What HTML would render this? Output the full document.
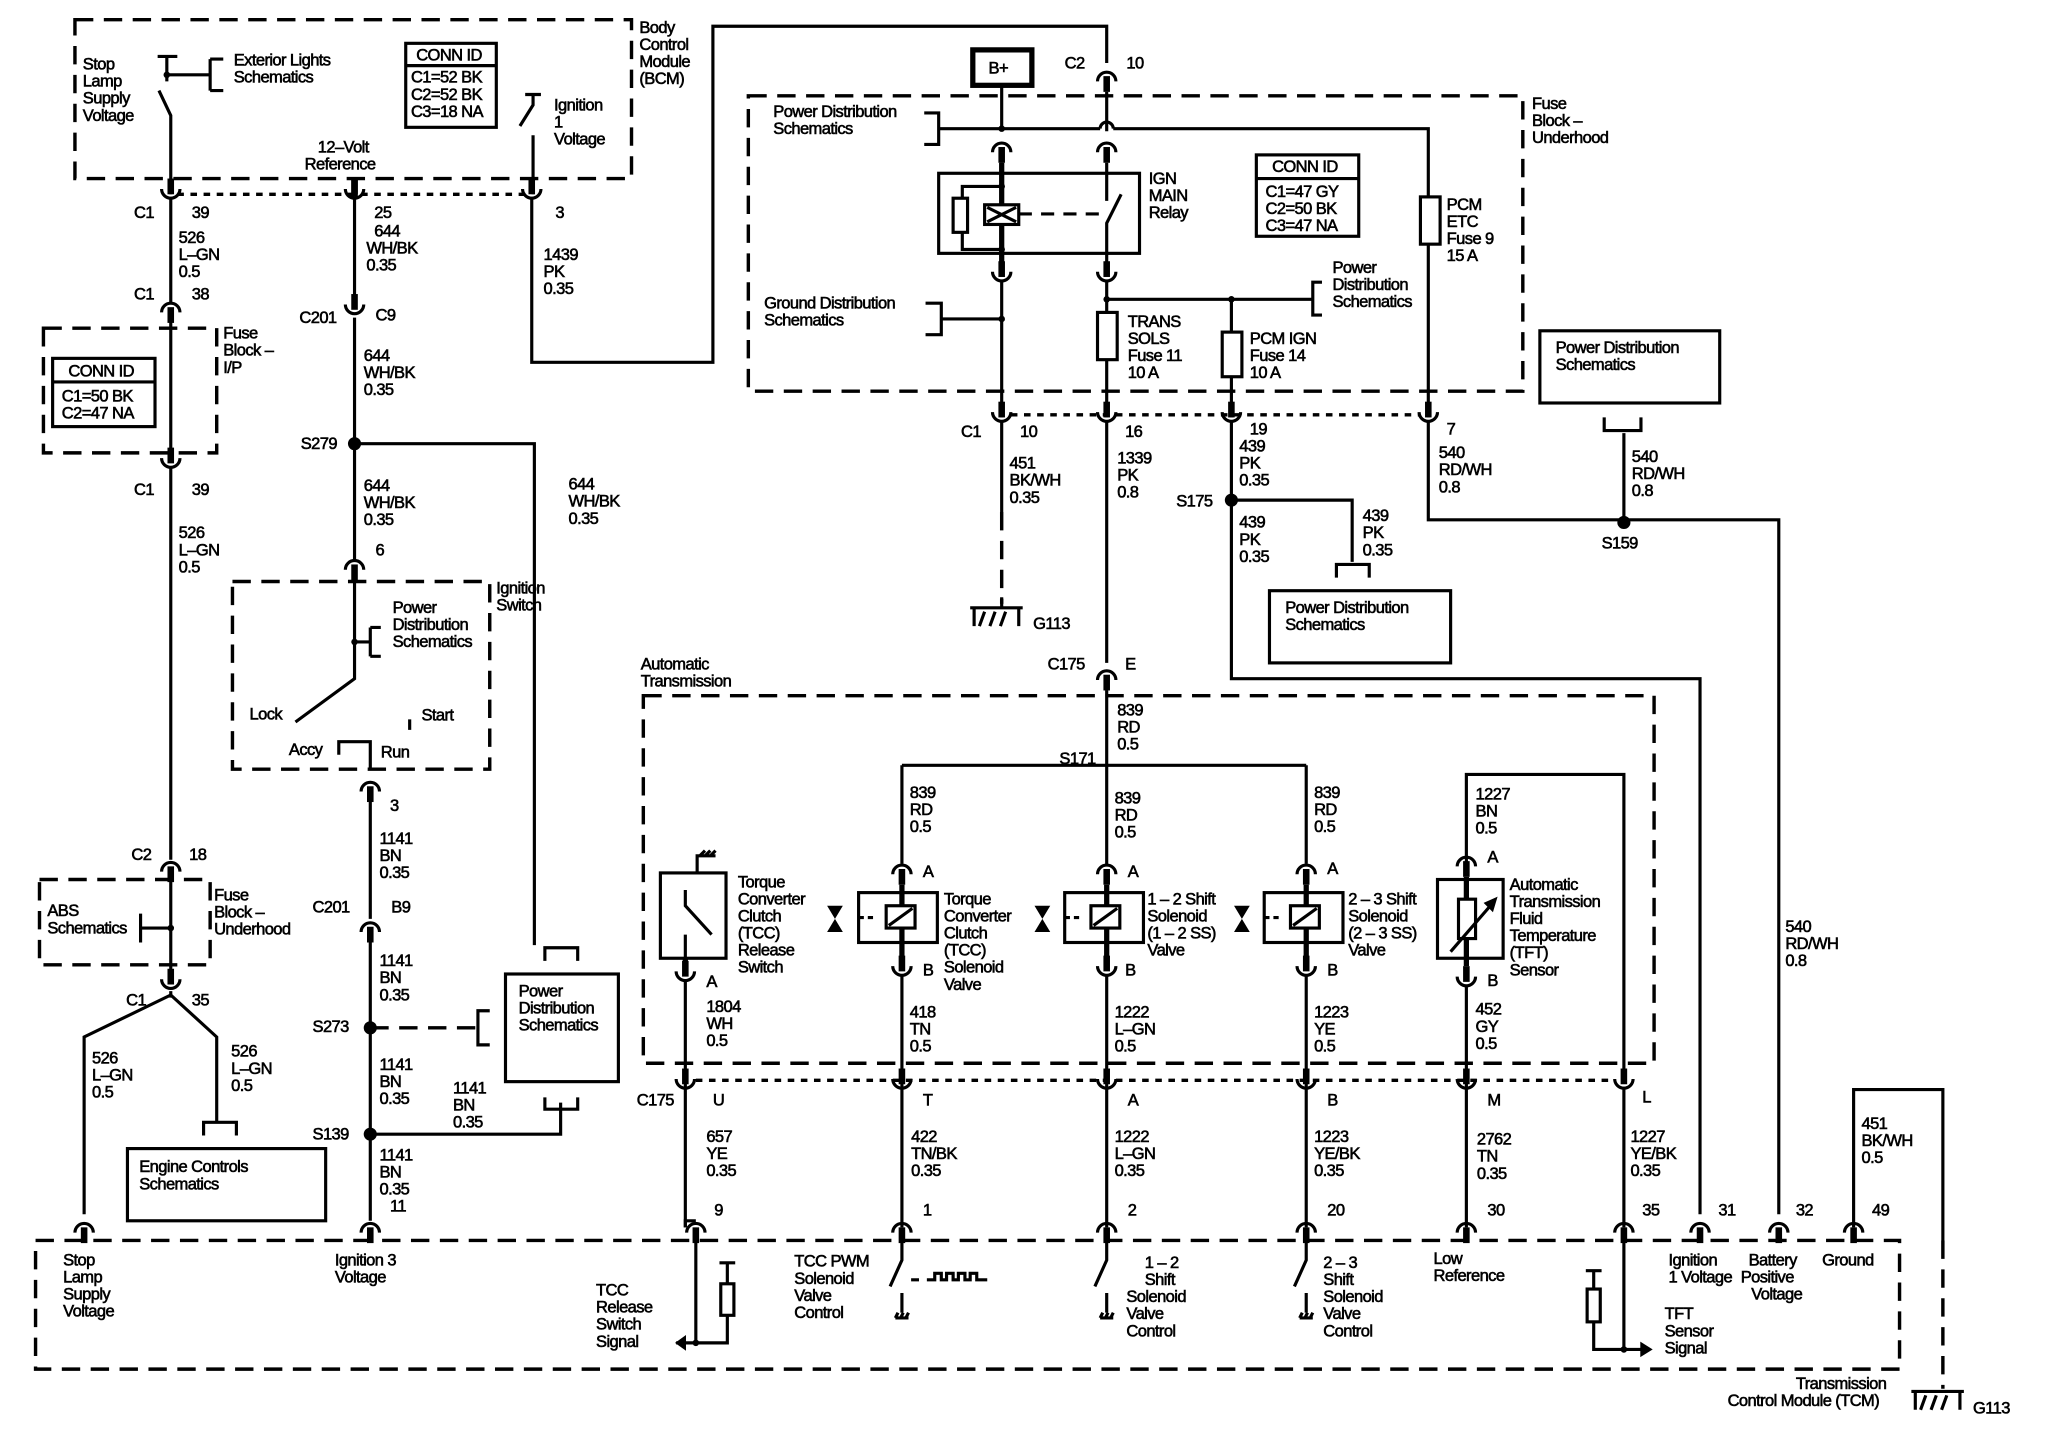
<!DOCTYPE html>
<html><head><meta charset="utf-8"><style>
html,body{margin:0;padding:0;background:#fff;}
svg{display:block}
text{font-family:"Liberation Sans Narrow","Liberation Sans",sans-serif;font-size:12.6px;letter-spacing:-0.45px;fill:#000;stroke:#000;stroke-width:0.45}
.w{stroke:#000;stroke-width:2.4;fill:none}
.d{stroke:#000;stroke-width:2.6;fill:none;stroke-dasharray:14 8}
.s{stroke:#000;stroke-width:2.6;fill:none;stroke-dasharray:5 5}
.b{stroke:#000;stroke-width:2.4;fill:#fff}
</style></head><body>
<svg width="2048" height="1440" viewBox="0 0 1560 1097" xmlns="http://www.w3.org/2000/svg">
<defs>
<g id="cu"><path d="M0,-14V-2" stroke="#000" stroke-width="5"/><path d="M-7,-6A7,7 0 0 0 7,-6" class="w"/></g>
<g id="cn"><path d="M0,14V2" stroke="#000" stroke-width="5"/><path d="M-7,6A7,7 0 0 1 7,6" class="w"/></g>
<g id="gnd"><path d="M-20,0H20M-17,0V14M17,0V14M-9,3L-13,14M-1,3L-5,14M7,3L3,14" class="w"/></g>
<g id="sg"><path d="M-5,4H5M-3,0L-5,4M1,0L-1,4M5,0L3,4" class="w" stroke-width="1.6"/></g>
</defs>
<rect width="1560" height="1097" fill="#fff"/>

<path d="M57,15H481V136H57Z" class="d"/>
<text x="487" y="25"><tspan x="487">Body</tspan><tspan x="487" dy="13">Control</tspan><tspan x="487" dy="13">Module</tspan><tspan x="487" dy="13">(BCM)</tspan></text>
<text x="63" y="53"><tspan x="63">Stop</tspan><tspan x="63" dy="13">Lamp</tspan><tspan x="63" dy="13">Supply</tspan><tspan x="63" dy="13">Voltage</tspan></text>
<path d="M120,43H135M127,43V62M127,57H160M160,45V69M160,45H170M160,69H170" class="w"/>
<circle cx="127" cy="57" r="2.5"/>
<path d="M121,69L130,88V148" class="w"/>
<text x="178" y="50"><tspan x="178">Exterior Lights</tspan><tspan x="178" dy="13">Schematics</tspan></text>
<rect x="309" y="33" width="69" height="64" class="w"/><path d="M309,50H378" class="w"/>
<text x="317" y="46">CONN ID</text>
<text x="313" y="63"><tspan x="313">C1=52 BK</tspan><tspan x="313" dy="13">C2=52 BK</tspan><tspan x="313" dy="13">C3=18 NA</tspan></text>
<path d="M400,72H412M406,72V80L396,96M406,103V148" class="w"/>
<text x="422" y="84"><tspan x="422">Ignition</tspan><tspan x="422" dy="13">1</tspan><tspan x="422" dy="13">Voltage</tspan></text>
<text x="242" y="116"><tspan x="242">12–Volt</tspan><tspan x="232" dy="13">Reference</tspan></text>
<path d="M135,148H400" class="s"/>
<use href="#cu" x="130" y="150"/><use href="#cu" x="270" y="150"/><use href="#cu" x="405" y="150"/>
<path d="M270,136V150" stroke="#000" stroke-width="5"/>
<text x="102" y="166">C1</text><text x="146" y="166">39</text>
<text x="285" y="166">25</text><text x="423" y="166">3</text>

<path d="M130,150V232M130,242V342M130,356V655M130,668V745M130,755V760" class="w"/>
<text x="136" y="185"><tspan x="136">526</tspan><tspan x="136" dy="13">L–GN</tspan><tspan x="136" dy="13">0.5</tspan></text>
<use href="#cn" x="130" y="232"/>
<text x="102" y="228">C1</text><text x="146" y="228">38</text>
<path d="M33,250H165V345H33Z" class="d"/>
<text x="170" y="258"><tspan x="170">Fuse</tspan><tspan x="170" dy="13">Block –</tspan><tspan x="170" dy="13">I/P</tspan></text>
<rect x="40" y="273" width="78" height="52" class="w"/><path d="M40,291H118" class="w"/>
<text x="52" y="287">CONN ID</text>
<text x="47" y="306"><tspan x="47">C1=50 BK</tspan><tspan x="47" dy="13">C2=47 NA</tspan></text>
<use href="#cu" x="130" y="355"/>
<text x="102" y="377">C1</text><text x="146" y="377">39</text>
<text x="136" y="410"><tspan x="136">526</tspan><tspan x="136" dy="13">L–GN</tspan><tspan x="136" dy="13">0.5</tspan></text>
<use href="#cn" x="130" y="658"/>
<text x="100" y="655">C2</text><text x="144" y="655">18</text>
<path d="M30,670H160V735H30Z" class="d"/>
<text x="163" y="686"><tspan x="163">Fuse</tspan><tspan x="163" dy="13">Block –</tspan><tspan x="163" dy="13">Underhood</tspan></text>
<text x="36" y="698"><tspan x="36">ABS</tspan><tspan x="36" dy="13">Schematics</tspan></text>
<path d="M107,696V718M107,707H130" class="w"/><circle cx="130" cy="707" r="2.5"/>
<use href="#cu" x="130" y="752"/>
<text x="96" y="766">C1</text><text x="146" y="766">35</text>
<path d="M130,758L64,790V925M130,758L165,790V855" class="w"/>
<text x="70" y="810"><tspan x="70">526</tspan><tspan x="70" dy="13">L–GN</tspan><tspan x="70" dy="13">0.5</tspan></text>
<text x="176" y="805"><tspan x="176">526</tspan><tspan x="176" dy="13">L–GN</tspan><tspan x="176" dy="13">0.5</tspan></text>
<path d="M155,865V855H180V865" class="w"/>
<rect x="97" y="875" width="151" height="55" class="w"/>
<text x="106" y="893"><tspan x="106">Engine Controls</tspan><tspan x="106" dy="13">Schematics</tspan></text>

<path d="M270,150V226M270,242V428M270,443V517L225,550" class="w"/>
<text x="285" y="180"><tspan x="285">644</tspan><tspan x="279" dy="13">WH/BK</tspan><tspan x="279" dy="13">0.35</tspan></text>
<use href="#cu" x="270" y="238"/>
<text x="228" y="246">C201</text><text x="286" y="244">C9</text>
<text x="277" y="275"><tspan x="277">644</tspan><tspan x="277" dy="13">WH/BK</tspan><tspan x="277" dy="13">0.35</tspan></text>
<circle cx="270" cy="338" r="5"/>
<text x="229" y="342">S279</text>
<path d="M270,338H407V720" class="w"/>
<text x="433" y="373"><tspan x="433">644</tspan><tspan x="433" dy="13">WH/BK</tspan><tspan x="433" dy="13">0.35</tspan></text>
<text x="277" y="374"><tspan x="277">644</tspan><tspan x="277" dy="13">WH/BK</tspan><tspan x="277" dy="13">0.35</tspan></text>
<use href="#cn" x="270" y="428"/><text x="286" y="423">6</text>
<path d="M177,443H373V586H177Z" class="d"/>
<text x="378" y="452"><tspan x="378">Ignition</tspan><tspan x="378" dy="13">Switch</tspan></text>
<path d="M270,489H282M282,478V500M282,478H290M282,500H290" class="w"/><circle cx="270" cy="489" r="2.5"/>
<text x="299" y="467"><tspan x="299">Power</tspan><tspan x="299" dy="13">Distribution</tspan><tspan x="299" dy="13">Schematics</tspan></text>
<text x="190" y="548">Lock</text><text x="321" y="549">Start</text>
<text x="220" y="575">Accy</text><text x="290" y="577">Run</text>
<path d="M312,548V556M258,575V565H282V585" class="w"/>
<use href="#cn" x="282" y="597"/><text x="297" y="618">3</text>
<path d="M282,611V700M282,716V930" class="w"/>
<text x="289" y="643"><tspan x="289">1141</tspan><tspan x="289" dy="13">BN</tspan><tspan x="289" dy="13">0.35</tspan></text>
<use href="#cn" x="282" y="704"/>
<text x="238" y="695">C201</text><text x="298" y="695">B9</text>
<text x="289" y="736"><tspan x="289">1141</tspan><tspan x="289" dy="13">BN</tspan><tspan x="289" dy="13">0.35</tspan></text>
<circle cx="282" cy="783" r="5"/><text x="238" y="786">S273</text>
<path d="M282,783H364" class="d"/>
<path d="M373,770H364V796H373" class="w"/>
<text x="289" y="815"><tspan x="289">1141</tspan><tspan x="289" dy="13">BN</tspan><tspan x="289" dy="13">0.35</tspan></text>
<text x="345" y="833"><tspan x="345">1141</tspan><tspan x="345" dy="13">BN</tspan><tspan x="345" dy="13">0.35</tspan></text>
<circle cx="282" cy="864" r="5"/><text x="238" y="868">S139</text>
<path d="M282,864H427V840" class="w"/>
<path d="M415,732V722H440V732M415,836V845H440V836" class="w"/>
<rect x="385" y="742" width="86" height="82" class="w"/>
<text x="395" y="759"><tspan x="395">Power</tspan><tspan x="395" dy="13">Distribution</tspan><tspan x="395" dy="13">Schematics</tspan></text>
<text x="289" y="884"><tspan x="289">1141</tspan><tspan x="289" dy="13">BN</tspan><tspan x="289" dy="13">0.35</tspan><tspan x="297" dy="13">11</tspan></text>

<path d="M405,150V276H543V20H843V48" class="w"/>
<text x="414" y="198"><tspan x="414">1439</tspan><tspan x="414" dy="13">PK</tspan><tspan x="414" dy="13">0.35</tspan></text>

<rect x="741" y="38" width="45" height="27" fill="none" stroke="#000" stroke-width="4"/>
<text x="753" y="56">B+</text>
<use href="#cn" x="843" y="56"/>
<text x="811" y="52">C2</text><text x="858" y="52">10</text>
<path d="M570,73H1160V298H570Z" class="d"/>
<text x="1167" y="83"><tspan x="1167">Fuse</tspan><tspan x="1167" dy="13">Block –</tspan><tspan x="1167" dy="13">Underhood</tspan></text>
<text x="589" y="89"><tspan x="589">Power Distribution</tspan><tspan x="589" dy="13">Schematics</tspan></text>
<path d="M704,86H715V110H704M715,98H838M848,98H1088V318" class="w"/>
<path d="M838,98A5,5 0 0 1 848,98" class="w"/>
<circle cx="763" cy="98" r="2.5"/>
<path d="M763,65V100M843,70V100" class="w"/>
<use href="#cn" x="763" y="110"/><use href="#cn" x="843" y="110"/>
<rect x="715" y="132" width="153" height="61" class="w"/>
<path d="M763,124V200M843,124V153M854,148L843,170V200" class="w"/>
<path d="M763,124V200" stroke="#000" stroke-width="4"/>
<path d="M763,142H733V190H763" class="w"/><circle cx="763" cy="142" r="2.5"/><circle cx="763" cy="190" r="2.5"/>
<rect x="726" y="151" width="11" height="26" class="b"/>
<rect x="750" y="156" width="26" height="15" class="b"/>
<path d="M752,158L774,169M752,169L774,158" class="w" stroke-width="2"/>
<path d="M776,163H840" class="w" stroke-dasharray="10 7"/>
<text x="875" y="140"><tspan x="875">IGN</tspan><tspan x="875" dy="13">MAIN</tspan><tspan x="875" dy="13">Relay</tspan></text>
<rect x="957" y="118" width="78" height="62" class="w"/><path d="M957,136H1035" class="w"/>
<text x="969" y="131">CONN ID</text>
<text x="964" y="150"><tspan x="964">C1=47 GY</tspan><tspan x="964" dy="13">C2=50 BK</tspan><tspan x="964" dy="13">C3=47 NA</tspan></text>
<rect x="1082" y="150" width="15" height="36" class="b"/>
<text x="1102" y="160"><tspan x="1102">PCM</tspan><tspan x="1102" dy="13">ETC</tspan><tspan x="1102" dy="13">Fuse 9</tspan><tspan x="1102" dy="13">15 A</tspan></text>
<use href="#cu" x="763" y="213"/><use href="#cu" x="843" y="213"/>
<path d="M763,213V318M843,213V318M843,228H1000M938,228V318" class="w"/>
<circle cx="843" cy="228" r="2.5"/><circle cx="938" cy="228" r="2.5"/><circle cx="763" cy="243" r="2.5"/>
<path d="M1007,215H1000V240H1007" class="w"/>
<text x="1015" y="208"><tspan x="1015">Power</tspan><tspan x="1015" dy="13">Distribution</tspan><tspan x="1015" dy="13">Schematics</tspan></text>
<path d="M705,231H717V255H705M717,243H763" class="w"/>
<text x="582" y="235"><tspan x="582">Ground Distribution</tspan><tspan x="582" dy="13">Schematics</tspan></text>
<rect x="836" y="238" width="15" height="36" class="b"/>
<text x="859" y="249"><tspan x="859">TRANS</tspan><tspan x="859" dy="13">SOLS</tspan><tspan x="859" dy="13">Fuse 11</tspan><tspan x="859" dy="13">10 A</tspan></text>
<rect x="931" y="253" width="15" height="34" class="b"/>
<text x="952" y="262"><tspan x="952">PCM IGN</tspan><tspan x="952" dy="13">Fuse 14</tspan><tspan x="952" dy="13">10 A</tspan></text>
<path d="M770,316H1082" class="s"/>
<use href="#cu" x="763" y="320"/><use href="#cu" x="843" y="320"/><use href="#cu" x="938" y="320"/><use href="#cu" x="1088" y="320"/>
<text x="732" y="333">C1</text><text x="777" y="333">10</text><text x="857" y="333">16</text><text x="952" y="331">19</text><text x="1102" y="331">7</text>
<path d="M763,320V390" class="w"/><path d="M763,390V460" class="d"/>
<text x="769" y="357"><tspan x="769">451</tspan><tspan x="769" dy="13">BK/WH</tspan><tspan x="769" dy="13">0.35</tspan></text>
<use href="#gnd" x="759" y="463"/><path d="M763,455V463" class="w"/>
<text x="787" y="479">G113</text>
<path d="M843,320V505" class="w"/>
<text x="851" y="353"><tspan x="851">1339</tspan><tspan x="851" dy="13">PK</tspan><tspan x="851" dy="13">0.8</tspan></text>
<path d="M938,320V517H1295V925M938,381H1030V428" class="w"/>
<circle cx="938" cy="381" r="5"/><text x="896" y="386">S175</text>
<text x="944" y="344"><tspan x="944">439</tspan><tspan x="944" dy="13">PK</tspan><tspan x="944" dy="13">0.35</tspan></text>
<text x="944" y="402"><tspan x="944">439</tspan><tspan x="944" dy="13">PK</tspan><tspan x="944" dy="13">0.35</tspan></text>
<text x="1038" y="397"><tspan x="1038">439</tspan><tspan x="1038" dy="13">PK</tspan><tspan x="1038" dy="13">0.35</tspan></text>
<path d="M1018,440V430H1043V440" class="w"/>
<rect x="967" y="450" width="138" height="55" class="w"/>
<text x="979" y="467"><tspan x="979">Power Distribution</tspan><tspan x="979" dy="13">Schematics</tspan></text>
<text x="1096" y="349"><tspan x="1096">540</tspan><tspan x="1096" dy="13">RD/WH</tspan><tspan x="1096" dy="13">0.8</tspan></text>
<path d="M1088,320V396H1355V925M1237,330V396" class="w"/>
<path d="M1222,318V328H1250V318" class="w"/>
<circle cx="1237" cy="398" r="5"/><text x="1220" y="418">S159</text>
<text x="1243" y="352"><tspan x="1243">540</tspan><tspan x="1243" dy="13">RD/WH</tspan><tspan x="1243" dy="13">0.8</tspan></text>
<rect x="1173" y="252" width="137" height="55" class="w"/>
<text x="1185" y="269"><tspan x="1185">Power Distribution</tspan><tspan x="1185" dy="13">Schematics</tspan></text>
<text x="1360" y="710"><tspan x="1360">540</tspan><tspan x="1360" dy="13">RD/WH</tspan><tspan x="1360" dy="13">0.8</tspan></text>

<use href="#cn" x="843" y="512"/>
<text x="798" y="510">C175</text><text x="857" y="510">E</text>
<text x="488" y="510"><tspan x="488">Automatic</tspan><tspan x="488" dy="13">Transmission</tspan></text>
<path d="M490,530H1260V810H490Z" class="d"/>
<path d="M843,526V660M687,583H995M687,583V658M995,583V658" class="w"/>
<text x="851" y="545"><tspan x="851">839</tspan><tspan x="851" dy="13">RD</tspan><tspan x="851" dy="13">0.5</tspan></text>
<text x="807" y="582">S171</text>
<text x="693" y="608"><tspan x="693">839</tspan><tspan x="693" dy="13">RD</tspan><tspan x="693" dy="13">0.5</tspan></text>
<text x="849" y="612"><tspan x="849">839</tspan><tspan x="849" dy="13">RD</tspan><tspan x="849" dy="13">0.5</tspan></text>
<text x="1001" y="608"><tspan x="1001">839</tspan><tspan x="1001" dy="13">RD</tspan><tspan x="1001" dy="13">0.5</tspan></text>
<path d="M1117,658V590H1237V825" class="w"/>
<text x="1124" y="609"><tspan x="1124">1227</tspan><tspan x="1124" dy="13">BN</tspan><tspan x="1124" dy="13">0.5</tspan></text>
<g>
<use href="#cn" x="687" y="660"/><use href="#cn" x="843" y="660"/><use href="#cn" x="995" y="660"/><use href="#cn" x="1117" y="654"/>
<text x="703" y="668">A</text><text x="859" y="668">A</text><text x="1011" y="666">A</text><text x="1133" y="657">A</text>
<rect x="654" y="680" width="60" height="38" class="w"/>
<rect x="811" y="680" width="60" height="38" class="w"/>
<rect x="963" y="680" width="60" height="38" class="w"/>
<path d="M687,674V730M843,674V730M995,674V730M1117,668V736" stroke="#000" stroke-width="4"/>
<rect x="675" y="690" width="22" height="17" class="b"/><path d="M677,705L695,692" class="w"/>
<rect x="831" y="690" width="22" height="17" class="b"/><path d="M833,705L851,692" class="w"/>
<rect x="983" y="690" width="22" height="17" class="b"/><path d="M985,705L1003,692" class="w"/>
<path d="M654,699H666M811,699H823M963,699H975" class="w" stroke-dasharray="4 3"/>
<path d="M630,690H642L630,710H642Z" fill="#000"/>
<path d="M788,690H800L788,710H800Z" fill="#000"/>
<path d="M940,690H952L940,710H952Z" fill="#000"/>
<use href="#cu" x="687" y="742"/><use href="#cu" x="843" y="742"/><use href="#cu" x="995" y="742"/><use href="#cu" x="1117" y="750"/>
<text x="703" y="743">B</text><text x="857" y="743">B</text><text x="1011" y="743">B</text><text x="1133" y="751">B</text>
<text x="719" y="689"><tspan x="719">Torque</tspan><tspan x="719" dy="13">Converter</tspan><tspan x="719" dy="13">Clutch</tspan><tspan x="719" dy="13">(TCC)</tspan><tspan x="719" dy="13">Solenoid</tspan><tspan x="719" dy="13">Valve</tspan></text>
<text x="874" y="689"><tspan x="874">1 – 2 Shift</tspan><tspan x="874" dy="13">Solenoid</tspan><tspan x="874" dy="13">(1 – 2 SS)</tspan><tspan x="874" dy="13">Valve</tspan></text>
<text x="1027" y="689"><tspan x="1027">2 – 3 Shift</tspan><tspan x="1027" dy="13">Solenoid</tspan><tspan x="1027" dy="13">(2 – 3 SS)</tspan><tspan x="1027" dy="13">Valve</tspan></text>
<rect x="1095" y="670" width="50" height="60" class="w"/>
<rect x="1111" y="685" width="13" height="30" class="b"/>
<path d="M1105,725L1137,688" class="w"/><path d="M1140,684L1131,688L1137,694Z" fill="#000" stroke="#000"/>
<text x="1150" y="678"><tspan x="1150">Automatic</tspan><tspan x="1150" dy="13">Transmission</tspan><tspan x="1150" dy="13">Fluid</tspan><tspan x="1150" dy="13">Temperature</tspan><tspan x="1150" dy="13">(TFT)</tspan><tspan x="1150" dy="13">Sensor</tspan></text>
</g>
<rect x="503" y="665" width="50" height="65" class="w"/>
<path d="M531,665V652H545M537,652L541,648M541,652L545,648M533,652L537,648" class="w"/>
<path d="M522,678V690L542,712M522,712V738" class="w"/>
<path d="M522,730V738" stroke="#000" stroke-width="4"/>
<use href="#cu" x="522" y="746"/>
<text x="538" y="752">A</text>
<text x="562" y="676"><tspan x="562">Torque</tspan><tspan x="562" dy="13">Converter</tspan><tspan x="562" dy="13">Clutch</tspan><tspan x="562" dy="13">(TCC)</tspan><tspan x="562" dy="13">Release</tspan><tspan x="562" dy="13">Switch</tspan></text>
<path d="M522,746V830M687,742V830M843,742V830M995,742V830M1117,750V830" class="w"/>
<text x="538" y="771"><tspan x="538">1804</tspan><tspan x="538" dy="13">WH</tspan><tspan x="538" dy="13">0.5</tspan></text>
<text x="693" y="775"><tspan x="693">418</tspan><tspan x="693" dy="13">TN</tspan><tspan x="693" dy="13">0.5</tspan></text>
<text x="849" y="775"><tspan x="849">1222</tspan><tspan x="849" dy="13">L–GN</tspan><tspan x="849" dy="13">0.5</tspan></text>
<text x="1001" y="775"><tspan x="1001">1223</tspan><tspan x="1001" dy="13">YE</tspan><tspan x="1001" dy="13">0.5</tspan></text>
<text x="1124" y="773"><tspan x="1124">452</tspan><tspan x="1124" dy="13">GY</tspan><tspan x="1124" dy="13">0.5</tspan></text>
<path d="M530,823H1230" class="s"/>
<use href="#cu" x="522" y="828"/><use href="#cu" x="687" y="828"/><use href="#cu" x="843" y="828"/><use href="#cu" x="995" y="828"/><use href="#cu" x="1117" y="828"/><use href="#cu" x="1237" y="828"/>
<text x="485" y="842">C175</text><text x="543" y="842">U</text><text x="703" y="842">T</text><text x="859" y="842">A</text><text x="1011" y="842">B</text><text x="1133" y="842">M</text><text x="1251" y="840">L</text>
<path d="M522,828V935M687,828V935M843,828V935M995,828V935M1117,828V935M1237,828V935" class="w"/>
<text x="538" y="870"><tspan x="538">657</tspan><tspan x="538" dy="13">YE</tspan><tspan x="538" dy="13">0.35</tspan></text>
<text x="694" y="870"><tspan x="694">422</tspan><tspan x="694" dy="13">TN/BK</tspan><tspan x="694" dy="13">0.35</tspan></text>
<text x="849" y="870"><tspan x="849">1222</tspan><tspan x="849" dy="13">L–GN</tspan><tspan x="849" dy="13">0.35</tspan></text>
<text x="1001" y="870"><tspan x="1001">1223</tspan><tspan x="1001" dy="13">YE/BK</tspan><tspan x="1001" dy="13">0.35</tspan></text>
<text x="1125" y="872"><tspan x="1125">2762</tspan><tspan x="1125" dy="13">TN</tspan><tspan x="1125" dy="13">0.35</tspan></text>
<text x="1242" y="870"><tspan x="1242">1227</tspan><tspan x="1242" dy="13">YE/BK</tspan><tspan x="1242" dy="13">0.35</tspan></text>
<path d="M1412,935V830H1480V945" class="w"/>
<path d="M1480,945V1058" class="d"/>
<text x="1418" y="860"><tspan x="1418">451</tspan><tspan x="1418" dy="13">BK/WH</tspan><tspan x="1418" dy="13">0.5</tspan></text>

<path d="M27,945H1447V1043H27Z" class="d"/>
<g>
<use href="#cn" x="64" y="933"/><use href="#cn" x="282" y="933"/><use href="#cn" x="530" y="933"/><use href="#cn" x="687" y="933"/><use href="#cn" x="843" y="933"/><use href="#cn" x="995" y="933"/><use href="#cn" x="1117" y="933"/><use href="#cn" x="1237" y="933"/><use href="#cn" x="1295" y="933"/><use href="#cn" x="1355" y="933"/><use href="#cn" x="1412" y="933"/>
</g>
<path d="M522,935V930H530" class="w"/>
<text x="544" y="926">9</text><text x="703" y="926">1</text><text x="859" y="926">2</text><text x="1011" y="926">20</text><text x="1133" y="926">30</text><text x="1251" y="926">35</text><text x="1309" y="926">31</text><text x="1368" y="926">32</text><text x="1426" y="926">49</text>
<text x="48" y="964"><tspan x="48">Stop</tspan><tspan x="48" dy="13">Lamp</tspan><tspan x="48" dy="13">Supply</tspan><tspan x="48" dy="13">Voltage</tspan></text>
<text x="255" y="964"><tspan x="255">Ignition 3</tspan><tspan x="255" dy="13">Voltage</tspan></text>
<path d="M530,945V1023H515M548,962H560M554,962V978M554,1002V1023H530" class="w"/>
<rect x="549" y="978" width="10" height="24" class="b"/>
<path d="M515,1023L522,1018V1028Z" fill="#000" stroke="#000"/>
<circle cx="530" cy="1023" r="2.5"/>
<text x="454" y="987"><tspan x="454">TCC</tspan><tspan x="454" dy="13">Release</tspan><tspan x="454" dy="13">Switch</tspan><tspan x="454" dy="13">Signal</tspan></text>
<text x="605" y="965"><tspan x="605">TCC PWM</tspan><tspan x="605" dy="13">Solenoid</tspan><tspan x="605" dy="13">Valve</tspan><tspan x="605" dy="13">Control</tspan></text>
<path d="M687,945V960L678,980M687,985V1000M843,945V960L834,980M843,985V1000M995,945V960L986,980M995,985V1000" class="w"/>
<use href="#sg" x="687" y="1000"/><use href="#sg" x="843" y="1000"/><use href="#sg" x="995" y="1000"/>
<path d="M694,975H700M706,975H712V970H717V975H721V970H726V975H730V970H735V975H739V970H744V975H752" class="w" stroke-width="2.6"/>
<text x="872" y="966"><tspan x="872">1 – 2</tspan><tspan x="872" dy="13">Shift</tspan><tspan x="858" dy="13">Solenoid</tspan><tspan x="858" dy="13">Valve</tspan><tspan x="858" dy="13">Control</tspan></text>
<text x="1008" y="966"><tspan x="1008">2 – 3</tspan><tspan x="1008" dy="13">Shift</tspan><tspan x="1008" dy="13">Solenoid</tspan><tspan x="1008" dy="13">Valve</tspan><tspan x="1008" dy="13">Control</tspan></text>
<text x="1092" y="963"><tspan x="1092">Low</tspan><tspan x="1092" dy="13">Reference</tspan></text>
<path d="M1237,945V1028M1208,968H1220M1214,968V982M1214,1007V1028H1250" class="w"/>
<rect x="1209" y="982" width="10" height="25" class="b"/>
<path d="M1258,1028L1250,1023V1033Z" fill="#000" stroke="#000"/><circle cx="1237" cy="1028" r="2.5"/>
<text x="1268" y="1005"><tspan x="1268">TFT</tspan><tspan x="1268" dy="13">Sensor</tspan><tspan x="1268" dy="13">Signal</tspan></text>
<text x="1271" y="964"><tspan x="1271">Ignition</tspan><tspan x="1271" dy="13">1 Voltage</tspan></text>
<text x="1332" y="964"><tspan x="1332">Battery</tspan><tspan x="1326" dy="13">Positive</tspan><tspan x="1334" dy="13">Voltage</tspan></text>
<text x="1388" y="964">Ground</text>
<text x="1368" y="1058"><tspan x="1368">Transmission</tspan><tspan x="1316" dy="13">Control Module (TCM)</tspan></text>
<use href="#gnd" x="1476" y="1060"/>
<text x="1503" y="1077">G113</text>
</svg>
</body></html>
